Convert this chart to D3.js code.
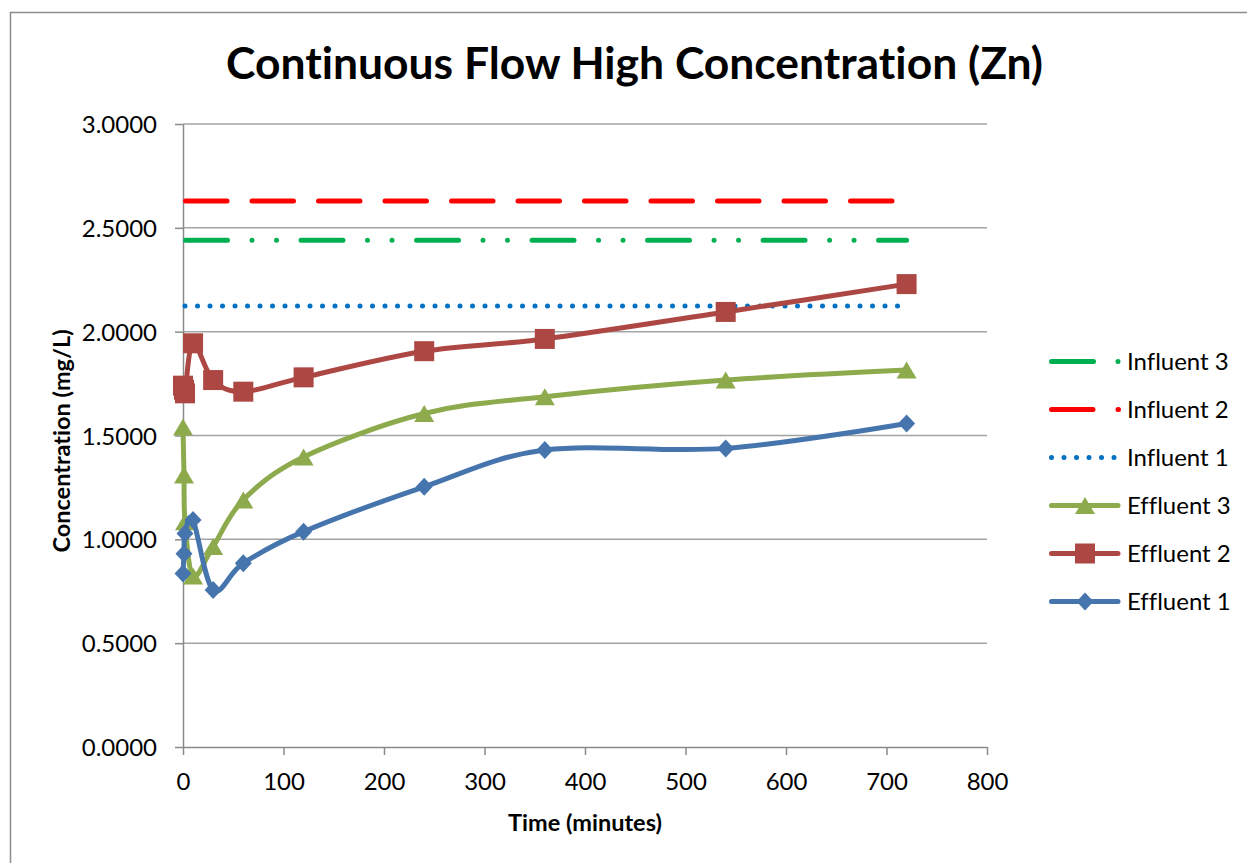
<!DOCTYPE html>
<html>
<head>
<meta charset="utf-8">
<script src="https://cdn.jsdelivr.net/npm/d3@7"></script>
<style>
  html, body { margin: 0; padding: 0; background: #fff; }
  svg { display: block; font-family: Lato, Carlito, Calibri, "Open Sans", sans-serif; font-variant-ligatures: none; }
</style>
</head>
<body>
<svg id="chart" width="1247" height="863"></svg>
<script>
// Sampling times (minutes)
const times = [0, 1, 2, 10, 30, 60, 120, 240, 360, 540, 720];

// Effluent concentrations (mg/L)
const effluent1 = [0.835, 0.931, 1.028, 1.093, 0.756, 0.885, 1.037, 1.253, 1.430, 1.438, 1.558];
const effluent2 = [1.740, 1.720, 1.703, 1.944, 1.767, 1.711, 1.780, 1.906, 1.965, 2.095, 2.229];
const effluent3 = [1.541, 1.310, 1.085, 0.823, 0.965, 1.190, 1.397, 1.606, 1.687, 1.767, 1.815];

// Influent concentrations, constant over the run
const influentNames = ["Influent 1", "Influent 2", "Influent 3"];
const influentValues = [2.124, 2.629, 2.440];
const influentSpan = [0, 720];

// Axis ticks
const xTicks = [0, 100, 200, 300, 400, 500, 600, 700, 800];
const yTicks = [0, 0.5, 1.0, 1.5, 2.0, 2.5, 3.0];

const legendOrder = ["Influent 3", "Influent 2", "Influent 1", "Effluent 3", "Effluent 2", "Effluent 1"];

const svg = d3.select("#chart");
const W = 1247, H = 863;
const plot = { left: 183, right: 987, top: 124, bottom: 747 };

// outer chart-area frame
svg.append("rect")
  .attr("x", 10.5).attr("y", 12.5)
  .attr("width", W + 10).attr("height", H + 10)
  .attr("fill", "#fff").attr("stroke", "#8c8c8c").attr("stroke-width", 1.5);

const x = d3.scaleLinear().domain([0, 800]).range([plot.left, plot.right]);
const y = d3.scaleLinear().domain([0, 3]).range([plot.bottom, plot.top]);

const gridColor = "#a3a3a3";
const axisColor = "#8a8a8a";
const fontTick = 24;

// horizontal gridlines
svg.append("g").selectAll("line")
  .data(yTicks.filter(v => v > 0))
  .join("line")
  .attr("x1", plot.left).attr("x2", plot.right)
  .attr("y1", d => y(d)).attr("y2", d => y(d))
  .attr("stroke", gridColor).attr("stroke-width", 1.5);

// y axis
const yAxis = svg.append("g")
  .attr("transform", `translate(${plot.left},0)`)
  .call(d3.axisLeft(y).tickValues(yTicks).tickFormat(d3.format(".4f")).tickSize(8).tickPadding(18).tickSizeOuter(0));
// x axis
const xAxis = svg.append("g")
  .attr("transform", `translate(0,${plot.bottom})`)
  .call(d3.axisBottom(x).tickValues(xTicks).tickFormat(d3.format("d")).tickSize(8).tickPadding(18).tickSizeOuter(0));

[yAxis, xAxis].forEach(g => {
  g.select(".domain").attr("stroke", axisColor).attr("stroke-width", 1.5);
  g.selectAll(".tick line").attr("stroke", axisColor).attr("stroke-width", 1.5);
  g.selectAll(".tick text").attr("fill", "#000").style("font-size", fontTick + "px")
    .style("font-family", "Lato, Carlito, Calibri, sans-serif");
});
xAxis.selectAll(".tick text").attr("dy", "0.72em");
yAxis.selectAll(".tick text").attr("dy", "0.36em");

// Title
svg.append("text")
  .attr("x", 634.5).attr("y", 78.5)
  .attr("text-anchor", "middle")
  .style("font-size", "44px").style("font-weight", "700")
  .attr("textLength", 817).attr("lengthAdjust", "spacingAndGlyphs")
  .text("Continuous Flow High Concentration (Zn)");

// Axis titles
svg.append("text")
  .attr("x", 585).attr("y", 831)
  .attr("text-anchor", "middle")
  .style("font-size", "23.5px").style("font-weight", "700")
  .text("Time (minutes)");

svg.append("text")
  .attr("transform", "translate(70,441) rotate(-90)")
  .attr("text-anchor", "middle")
  .style("font-size", "23.5px").style("font-weight", "700")
  .text("Concentration (mg/L)");

// Line styles
const influentStyle = {
  "Influent 1": { color: "#0070C0", dash: [0.01, 12.49], lead: 2 },
  "Influent 2": { color: "#FF0000", dash: [41.5, 25], lead: 2.5 },
  "Influent 3": { color: "#00B050", dash: [42, 24.5, 0.01, 24.5, 0.01, 24.49], lead: 2.5 }
};
const effluentStyle = {
  "Effluent 1": { color: "#4675AE", marker: "diamond", values: effluent1 },
  "Effluent 2": { color: "#AD4743", marker: "square", values: effluent2 },
  "Effluent 3": { color: "#8DAA4D", marker: "triangle", values: effluent3 }
};

function dashAttrs(sel, st, lead) {
  const total = d3.sum(st.dash);
  sel.attr("stroke-dasharray", st.dash.join(","))
     .attr("stroke-dashoffset", lead ? total - lead : 0);
}

// Influent reference lines
influentNames.forEach((name, i) => {
  const st = influentStyle[name];
  svg.append("line")
    .attr("x1", x(influentSpan[0])).attr("x2", x(influentSpan[1]))
    .attr("y1", y(influentValues[i])).attr("y2", y(influentValues[i]))
    .attr("stroke", st.color).attr("stroke-width", 5)
    .attr("stroke-linecap", "round")
    .call(dashAttrs, st, st.lead);
});

// marker shapes
function markerPath(type) {
  if (type === "diamond") return "M0,-9L8.5,0L0,9L-8.5,0Z";
  if (type === "square") return "M-10,-10H10V10H-10Z";
  return "M0,-8.5L10,8.5L-10,8.5Z";
}

const line = d3.line()
  .x(d => x(d[0])).y(d => y(d[1]))
  .curve(d3.curveCatmullRom.alpha(0));

// Effluent series: drawn 3, 2, 1 so series 1 sits on top
["Effluent 3", "Effluent 2", "Effluent 1"].forEach(name => {
  const st = effluentStyle[name];
  const pts = times.map((t, i) => [t, st.values[i]]);
  const g = svg.append("g");
  g.append("path")
    .attr("d", line(pts))
    .attr("fill", "none").attr("stroke", st.color).attr("stroke-width", 5)
    .attr("stroke-linejoin", "round").attr("stroke-linecap", "round");
  g.selectAll("path.m")
    .data(pts)
    .join("path").attr("class", "m")
    .attr("transform", d => `translate(${x(d[0])},${y(d[1])})`)
    .attr("d", markerPath(st.marker))
    .attr("fill", st.color);
});

// Legend
const legend = svg.append("g");
const lx0 = 1051.5, lx1 = 1118.5, rowY0 = 361.5, rowStep = 48;
legendOrder.forEach((name, i) => {
  const cy = rowY0 + i * rowStep;
  const row = legend.append("g");
  if (influentStyle[name]) {
    const st = influentStyle[name];
    row.append("line")
      .attr("x1", lx0).attr("x2", lx1).attr("y1", cy).attr("y2", cy)
      .attr("stroke", st.color).attr("stroke-width", 5).attr("stroke-linecap", "round")
      .call(dashAttrs, st, 0);
  } else {
    const st = effluentStyle[name];
    row.append("line")
      .attr("x1", lx0).attr("x2", lx1 - 0.5).attr("y1", cy).attr("y2", cy)
      .attr("stroke", st.color).attr("stroke-width", 5).attr("stroke-linecap", "round");
    row.append("path")
      .attr("transform", `translate(1085,${cy})`)
      .attr("d", markerPath(st.marker))
      .attr("fill", st.color);
  }
  row.append("text")
    .attr("x", 1127).attr("y", cy + 8.5)
    .style("font-size", fontTick + "px")
    .text(name);
});
</script>
</body>
</html>
